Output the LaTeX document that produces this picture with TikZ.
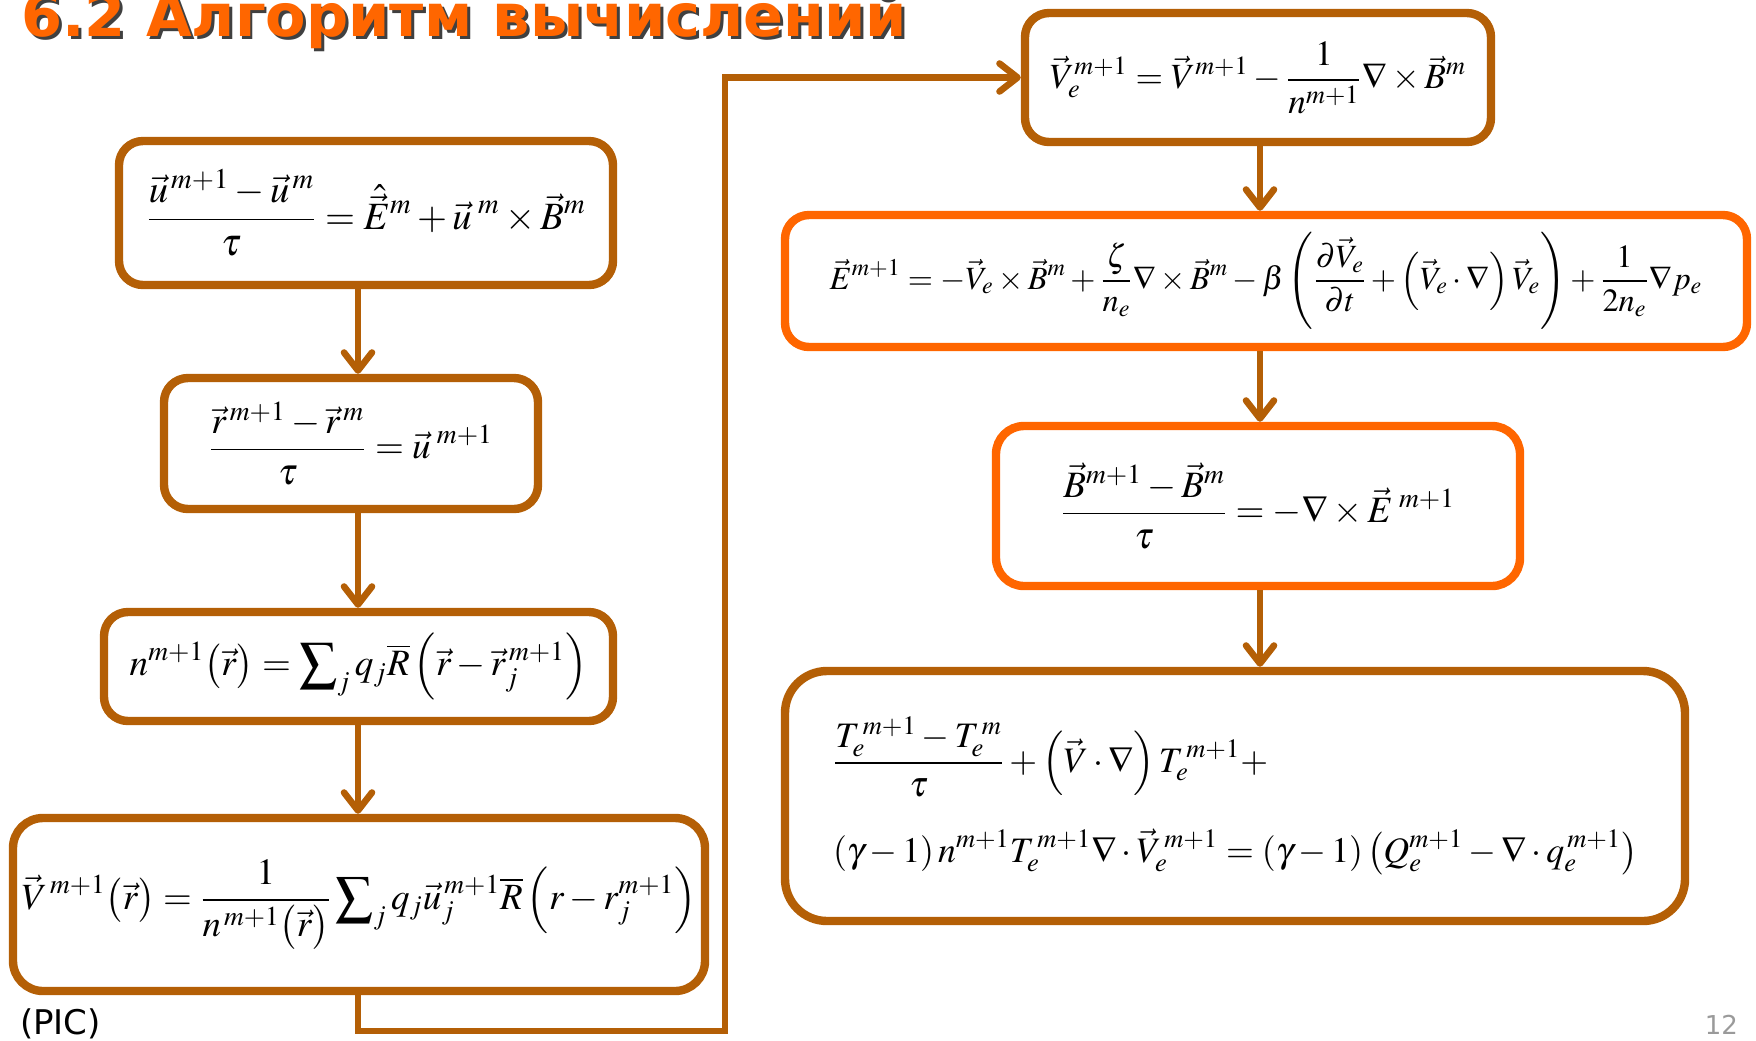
\documentclass[tikz,border=0pt]{standalone}
\usepackage{amsmath}
\usepackage{mathptmx}
\usepackage[no-math]{fontspec}
\newfontfamily\slidefont{DejaVu Sans}
\usetikzlibrary{arrows.meta}
\definecolor{FlowBrown}{HTML}{B45F06}
\definecolor{FlowOrange}{HTML}{FF6600}
\definecolor{PageGray}{HTML}{9A9A9A}

\tikzset{
  eqbox/.style={draw=FlowBrown, line width=4.2pt, rounded corners=12pt, fill=white, inner sep=0pt},
  hotbox/.style={eqbox, draw=FlowOrange},
  eqsize/.style={font=\fontsize{#1}{#1}\selectfont},
  flow/.style={FlowBrown, line width=3.3pt, -{Straight Barb[length=9pt,width=14pt,round]}},
}

\begin{document}
\begin{tikzpicture}[x=0.5pt,y=-0.5pt]
  \useasboundingbox (0,0) rectangle (1756,1040);
  % title with its shadow
  \node[anchor=base west, font=\slidefont\bfseries\fontsize{29.5}{30}\selectfont, text=black!75] (titleShadow) at (17,39) {6.2 Алгоритм вычислений};
  \node[anchor=base west, font=\slidefont\bfseries\fontsize{29.5}{30}\selectfont, text=FlowOrange] (title) at (14,36) {6.2 Алгоритм вычислений};

  % left column: particles
  \node[eqbox, eqsize=19.3, minimum width=247pt, minimum height=72pt] (uStep) at (366,213)
    {$\displaystyle \frac{\vec u^{\,m+1}-\vec u^{\,m}}{\tau}=\hat{\vec E}^{m}+\vec u^{\;m}\times\vec B^{m}$};
  \node[eqbox, eqsize=18.6, minimum width=187pt, minimum height=65.5pt] (rStep) at (351,443.5)
    {$\displaystyle \frac{\vec r^{\,m+1}-\vec r^{\,m}}{\tau}=\vec u^{\;m+1}$};
  \node[eqbox, eqsize=18.6, minimum width=254.5pt, minimum height=54.5pt] (nStep) at (358.5,666.5)
    {$\displaystyle n^{m+1}\bigl(\vec r\bigr)=\sum\nolimits_j q_j\overline{R}\left(\vec r-\vec r_j^{\,m+1}\right)$};
  \node[eqbox, eqsize=18.5, rounded corners=15pt, minimum width=346pt, minimum height=86.5pt] (vStep) at (359,904.5)
    {$\displaystyle \vec V^{\,m+1}\bigl(\vec r\bigr)=\frac{1}{n^{\,m+1}\bigl(\vec r\bigr)}\sum\nolimits_j q_j\vec u_j^{\,m+1}\overline{R}\left(r-r_j^{m+1}\right)$};

  % right column: fields
  \node[eqbox, eqsize=17.7, minimum width=233pt, minimum height=64.5pt] (veStep) at (1258,77.5)
    {$\displaystyle \vec V_e^{m+1}=\vec V^{m+1}-\frac{1}{n^{m+1}}\nabla\times\vec B^{m}$};
  \node[hotbox, eqsize=16.2, minimum width=481pt, minimum height=66pt] (eStep) at (1266,281)
    {$\displaystyle \vec E^{m+1}=-\vec V_e\times\vec B^{m}+\frac{\zeta}{n_e}\nabla\times\vec B^{m}-\beta\left(\frac{\partial\vec V_e}{\partial t}+\left(\vec V_e\cdot\nabla\right)\vec V_e\right)+\frac{1}{2n_e}\nabla p_e$};
  \node[hotbox, eqsize=18.6, rounded corners=14pt, minimum width=262pt, minimum height=80pt] (bStep) at (1258,506)
    {$\displaystyle \frac{\vec B^{m+1}-\vec B^{m}}{\tau}=-\nabla\times\vec E^{\;m+1}$};
  \node[eqbox, eqsize=17.9, rounded corners=21pt, minimum height=125pt, inner xsep=24pt, text width=402pt, align=left] (tStep) at (1235,796)
    {$\displaystyle\begin{aligned}
      &\frac{T_e^{\,m+1}-T_e^{\,m}}{\tau}+\left(\vec V\cdot\nabla\right)T_e^{\,m+1}+\\[12pt]
      &(\gamma-1)\,n^{m+1}T_e^{\,m+1}\nabla\cdot\vec V_e^{\,m+1}=(\gamma-1)\left(Q_e^{m+1}-\nabla\cdot q_e^{\,m+1}\right)
    \end{aligned}$};

  % connectors
  \coordinate (lcol) at (358,0);
  \coordinate (rcol) at (1260,0);
  \coordinate (loopTurn) at (725,1031);
  \draw[flow] (uStep.south -| lcol) -- (rStep.north -| lcol);
  \draw[flow] (rStep.south -| lcol) -- (nStep.north -| lcol);
  \draw[flow] (nStep.south -| lcol) -- (vStep.north -| lcol);
  \draw[flow] (vStep.south -| lcol) |- (loopTurn) |- (veStep.west);
  \draw[flow] (veStep.south -| rcol) -- (eStep.north -| rcol);
  \draw[flow] (eStep.south -| rcol) -- (bStep.north -| rcol);
  \draw[flow] (bStep.south -| rcol) -- (tStep.north -| rcol);

  \node[anchor=base west, font=\slidefont\fontsize{17}{17}\selectfont] (picLabel) at (13,1034) {(PIC)};
  \node[anchor=base east, font=\slidefont\fontsize{13}{13}\selectfont, text=PageGray] (pageNum) at (1745,1034) {12};
\end{tikzpicture}
\end{document}
